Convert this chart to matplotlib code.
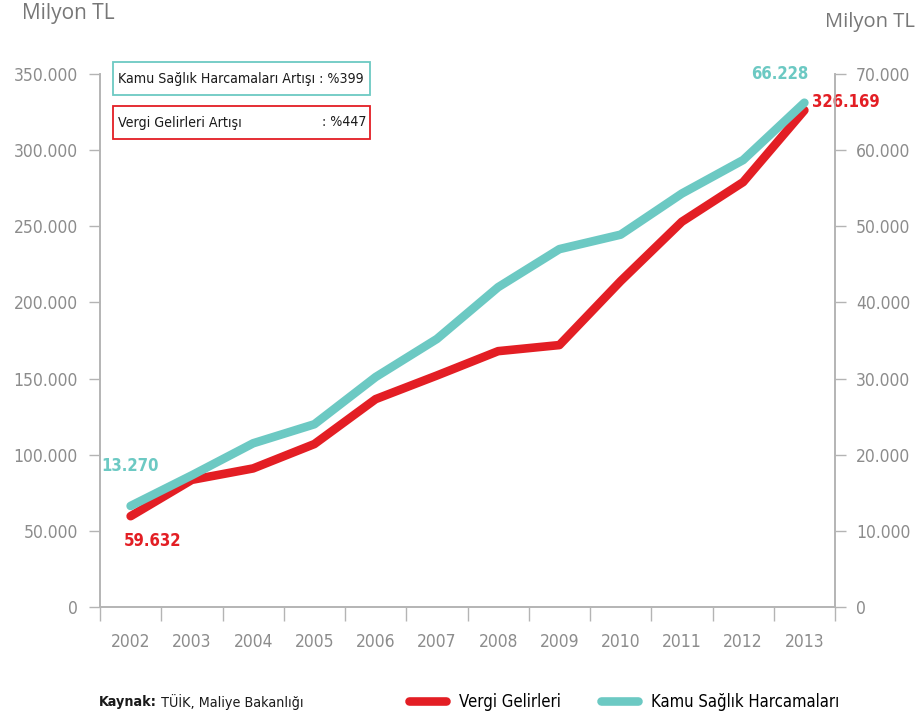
import numpy as np
import matplotlib.pyplot as plt
from matplotlib.patches import Rectangle

plt.rcParams['font.family'] = ['DejaVu Sans']
plt.rcParams['font.stretch'] = 'condensed'

years = ["2002", "2003", "2004", "2005", "2006", "2007", "2008", "2009", "2010", "2011", "2012", "2013"]
# Vergi Gelirleri (milyon TL, left axis)
vergi = [59632, 83500, 91000, 107000, 136500, 152000, 168000, 172000, 214000, 253000, 279000, 326169]
# Kamu Saglik Harcamalari (milyon TL, right axis)
saglik = [13270, 17300, 21500, 24000, 30200, 35200, 42000, 47000, 48900, 54300, 58700, 66228]

RED = "#E31E24"
TEAL = "#6CC9C3"
GRAY = "#8C8C8C"
AXC = "#B4B4B4"

def fmt(v, pos=None):
    return f"{int(v):,}".replace(",", ".")

fig = plt.figure(figsize=(9.21, 7.15), dpi=100)
ax = fig.add_axes([100/921, 1-607/715, 735/921, 533/715])
ax2 = ax.twinx()

x = np.arange(len(years))
l1, = ax.plot(x, vergi, color=RED, lw=6.2, solid_capstyle='round', solid_joinstyle='round')
l2, = ax2.plot(x, saglik, color=TEAL, lw=6.2, solid_capstyle='round', solid_joinstyle='round')

ax.set_xlim(-0.5, len(years) - 0.5)
ax.set_ylim(0, 350000)
ax2.set_ylim(0, 70000)
ax.set_yticks(np.arange(0, 350001, 50000))
ax2.set_yticks(np.arange(0, 70001, 10000))
ax.yaxis.set_major_formatter(fmt)
ax2.yaxis.set_major_formatter(fmt)

ax.set_xticks(np.arange(-0.5, len(years), 1))
ax.set_xticklabels([])
ax.set_xticks(x, minor=True)
ax.set_xticklabels(years, minor=True)
ax.tick_params(axis='x', which='minor', length=0, pad=19, labelsize=12.5, labelcolor=GRAY)
ax.tick_params(axis='x', which='major', length=10, color=AXC, width=1)

ax.tick_params(axis='y', length=8, color=AXC, width=1, pad=8, labelsize=12.5, labelcolor=GRAY)
ax2.tick_params(axis='y', length=8, color=AXC, width=1, pad=7, labelsize=12.5, labelcolor=GRAY)

for a in (ax, ax2):
    a.spines['top'].set_visible(False)
    for s in ('left', 'right', 'bottom'):
        a.spines[s].set_color(AXC)
        a.spines[s].set_linewidth(1.2)

# end labels
ax.annotate(fmt(vergi[0]), (x[0], vergi[0]), xytext=(22, -25), textcoords='offset pixels',
            ha='center', va='center', color=RED, fontsize=12, fontweight='bold')
ax2.annotate(fmt(saglik[0]), (x[0], saglik[0]), xytext=(-1, 40), textcoords='offset pixels',
             ha='center', va='center', color=TEAL, fontsize=12, fontweight='bold')
ax2.annotate(fmt(saglik[-1]), (x[-1], saglik[-1]), xytext=(-25, 29), textcoords='offset pixels',
             ha='center', va='center', color=TEAL, fontsize=12, fontweight='bold')
ax.annotate(fmt(vergi[-1]), (x[-1], vergi[-1]), xytext=(8, 8), textcoords='offset pixels',
            ha='left', va='center', color=RED, fontsize=12, fontweight='bold')

# growth boxes
fig.patches.append(Rectangle((113/921, 1-95/715), 257/921, 33/715, transform=fig.transFigure,
                             fill=False, edgecolor=TEAL, lw=1.3))
fig.patches.append(Rectangle((113/921, 1-139/715), 257/921, 33/715, transform=fig.transFigure,
                             fill=False, edgecolor=RED, lw=1.3))
fig.text(118/921, 1-78.5/715, "Kamu Sağlık Harcamaları Artışı : %399", fontsize=10.2,
         ha='left', va='center', color='#1a1a1a')
fig.text(118/921, 1-122.5/715, "Vergi Gelirleri Artışı", fontsize=10.2,
         ha='left', va='center', color='#1a1a1a')
fig.text(366/921, 1-122.5/715, ": %447", fontsize=10.2,
         ha='right', va='center', color='#1a1a1a')

# unit labels
fig.text(22/921, 1-14/715, "Milyon TL", fontsize=15, family='Open Sans', stretch='normal',
         color='#777777', ha='left', va='center')
fig.text(825/921, 1-22/715, "Milyon TL", fontsize=14.5, family='Open Sans', stretch='normal',
         color='#777777', ha='left', va='center')

# source
t1 = fig.text(99/921, 1-702/715, "Kaynak:", fontsize=10.3, fontweight='bold',
              ha='left', va='center', color='#1a1a1a')
ax.annotate(" TÜİK, Maliye Bakanlığı", xy=(1, 0.5), xycoords=t1, ha='left', va='center',
            fontsize=10.3, color='#1a1a1a')

fig.legend([l1, l2], ["Vergi Gelirleri", "Kamu Sağlık Harcamaları"], loc='center left',
           bbox_to_anchor=(394/921, 1-702/715), ncol=2, frameon=False, handlelength=2.2,
           columnspacing=2.4, handletextpad=0.8, prop={'size': 12})

fig.savefig("out.png", dpi=100)
